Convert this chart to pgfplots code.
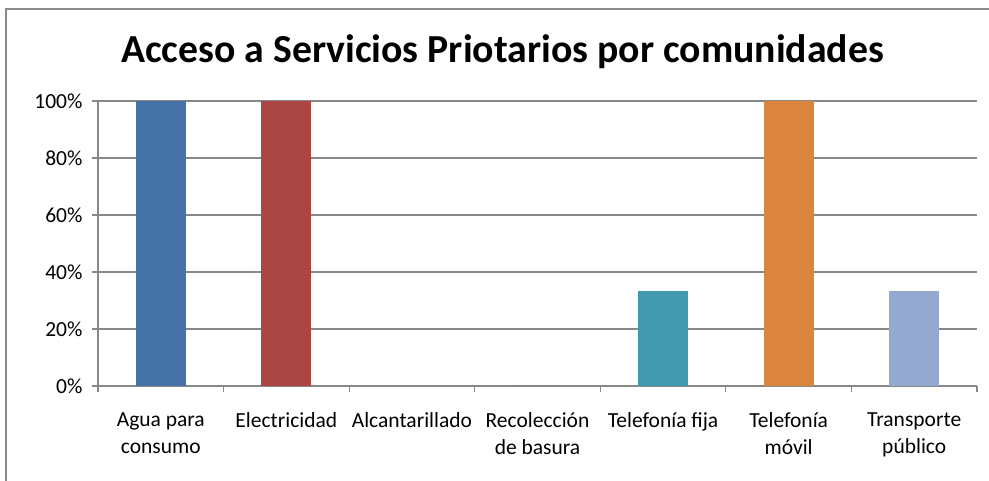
\documentclass[border=0pt]{standalone}
\usepackage{pgfplots}
\pgfplotsset{compat=1.18}
\usepackage{fontspec}
\setmainfont{Carlito}
\definecolor{cA}{HTML}{4572A7}
\definecolor{cB}{HTML}{AA4643}
\definecolor{cC}{HTML}{89A54E}
\definecolor{cD}{HTML}{71588F}
\definecolor{cE}{HTML}{4198AF}
\definecolor{cF}{HTML}{DB843D}
\definecolor{cG}{HTML}{93A9CF}
\definecolor{gridc}{HTML}{888888}
\definecolor{framec}{HTML}{8C8C8C}
\begin{document}
\begin{tikzpicture}
\useasboundingbox (0bp,0bp) rectangle (989bp,481bp);
\fill[framec] (5.25bp,0bp) rectangle (6.75bp,472.75bp);
\fill[framec] (5.25bp,471.25bp) rectangle (989.5bp,472.75bp);
\node[font=\fontsize{39.75bp}{48bp}\selectfont\bfseries, anchor=base, inner sep=0pt] at (502.5bp,418bp) {Acceso a Servicios Priotarios por comunidades};
\begin{axis}[
  at={(98bp,95bp)}, anchor=south west,
  scale only axis, width=879bp, height=285bp,
  xmin=-0.5, xmax=6.5, ymin=0, ymax=100,
  axis x line*=bottom, axis y line*=left,
  axis line style={-, draw=gridc, line width=1.2bp},
  tick align=outside,
  major tick length=6bp,
  every tick/.style={draw=gridc, line width=1.2bp},
  ymajorgrids,
  major grid style={draw=gridc, line width=1.2bp},
  ytick={0,20,40,60,80,100},
  yticklabels={0\%,20\%,40\%,60\%,80\%,100\%},
  xtick={-0.5,0.5,1.5,2.5,3.5,4.5,5.5,6.5},
  x tick label as interval,
  xticklabels={Agua para\\consumo, Electricidad, Alcantarillado, Recolección\\de basura, Telefonía fija, Telefonía\\móvil, Transporte\\público},
  xticklabel style={font=\fontsize{21.5bp}{27bp}\selectfont, align=center, anchor=north, yshift=-17bp},
  yticklabel style={font=\fontsize{21.5bp}{26bp}\selectfont, xshift=-6bp},
  tick label style={text=black},
]
\addplot[ybar, bar width=50bp, bar shift=0pt, fill=cA, draw=none] coordinates {(0,100)};
\addplot[ybar, bar width=50bp, bar shift=0pt, fill=cB, draw=none] coordinates {(1,100)};
\addplot[ybar, bar width=50bp, bar shift=0pt, fill=cC, draw=none] coordinates {(2,0)};
\addplot[ybar, bar width=50bp, bar shift=0pt, fill=cD, draw=none] coordinates {(3,0)};
\addplot[ybar, bar width=50bp, bar shift=0pt, fill=cE, draw=none] coordinates {(4,33.33)};
\addplot[ybar, bar width=50bp, bar shift=0pt, fill=cF, draw=none] coordinates {(5,100)};
\addplot[ybar, bar width=50bp, bar shift=0pt, fill=cG, draw=none] coordinates {(6,33.33)};
\end{axis}
\end{tikzpicture}
\end{document}
